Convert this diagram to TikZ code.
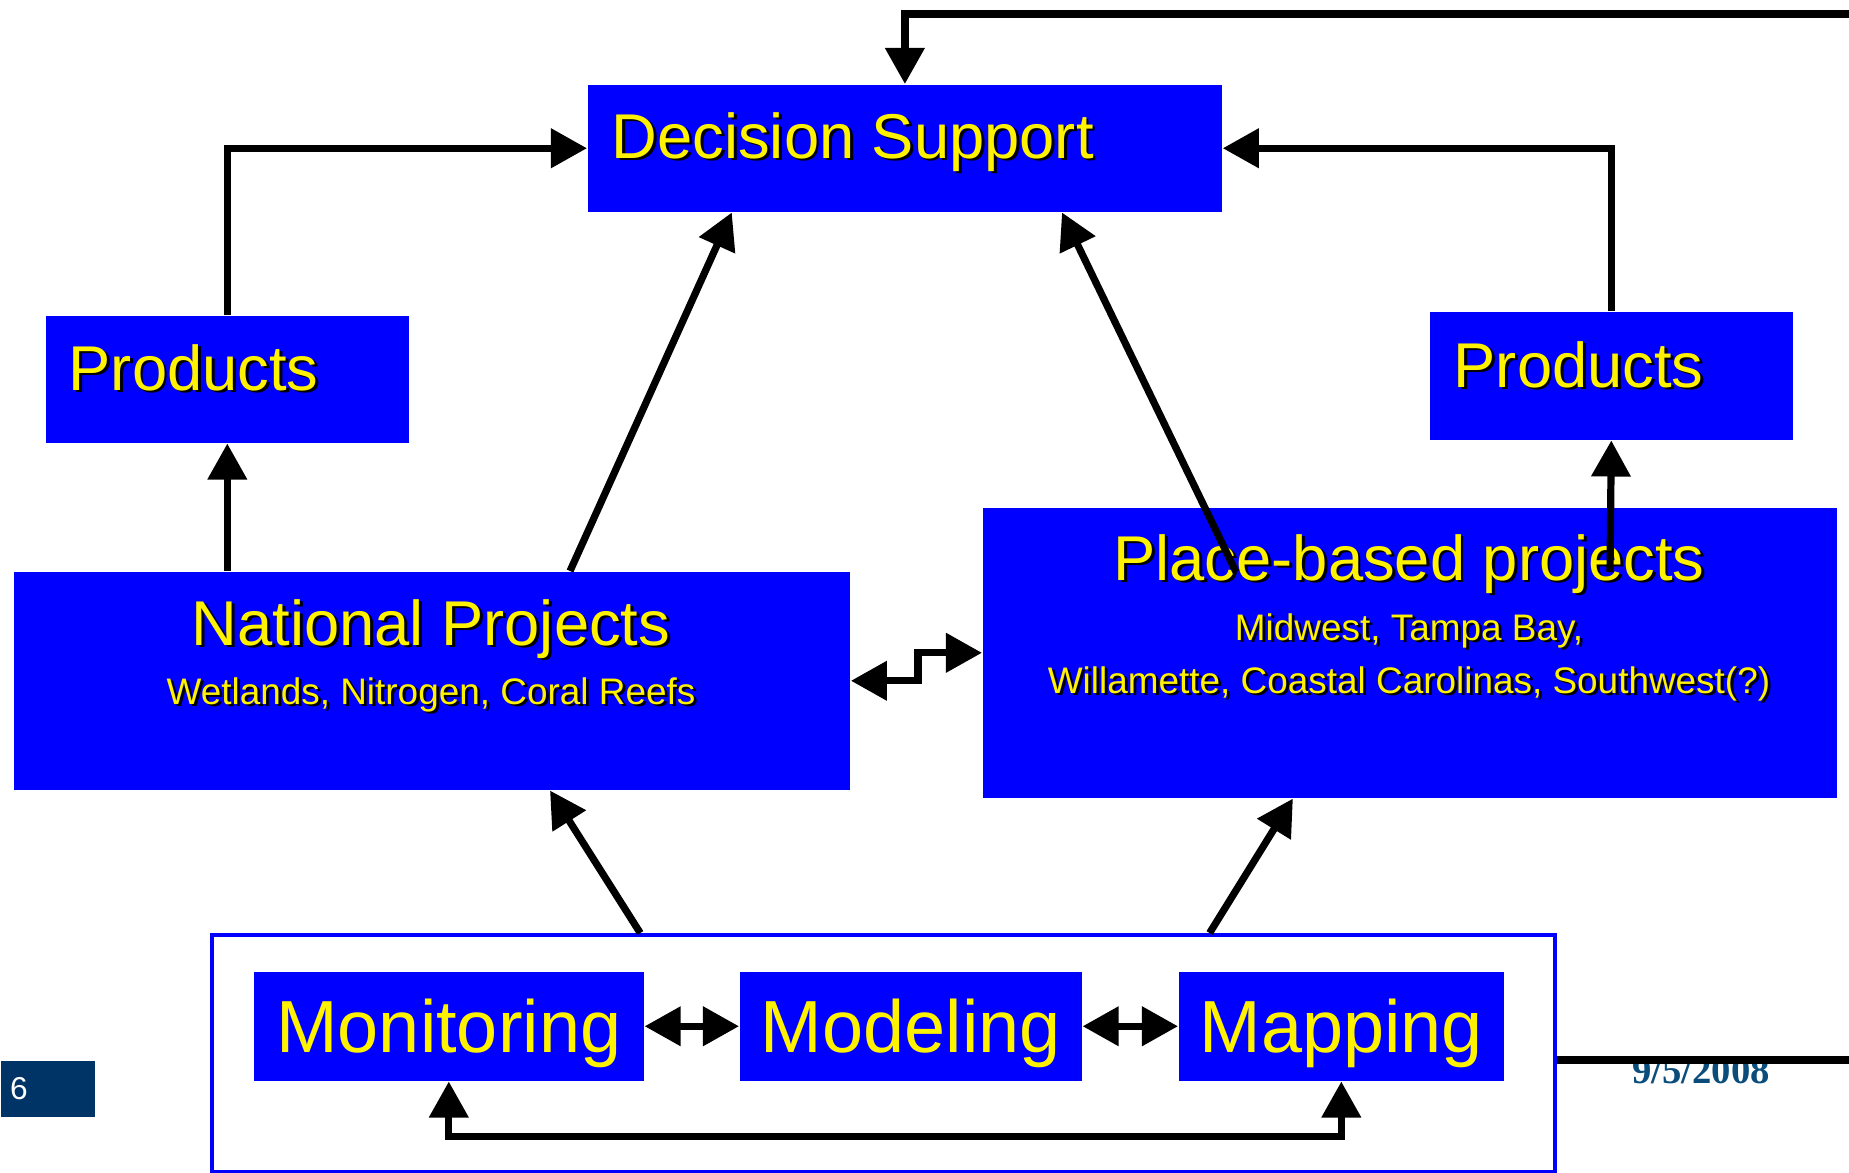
\documentclass[tikz,border=0pt]{standalone}
\usepackage{fontspec}
\setmainfont{Liberation Sans}
\newfontfamily\datefont{Liberation Serif}
\usetikzlibrary{arrows.meta}
\definecolor{pagenavy}{RGB}{0,51,102}
\definecolor{datecol}{RGB}{11,77,122}
\newcommand{\shadtxt}[1]{\rlap{\kern0.8pt\raisebox{-0.8pt}{\color{black}#1}}#1}
\tikzset{
  blk/.style={fill=blue, inner sep=0pt, anchor=north west},
  ttl/.style={text=yellow, inner sep=0pt, anchor=base, font=\fontsize{18}{20}\selectfont},
  sub/.style={text=yellow, inner sep=0pt, anchor=base, font=\fontsize{10.5}{12}\selectfont},
  tool/.style={blk, text=yellow, font=\fontsize{21}{24}\selectfont, text height=15pt, text depth=0pt},
  arr/.style={-{Triangle[length=0.36cm,width=0.38cm]}, line width=0.072cm},
  dbl/.style={{Triangle[length=0.36cm,width=0.38cm]}-{Triangle[length=0.36cm,width=0.38cm]}, line width=0.072cm},
}
\begin{document}
\begin{tikzpicture}[x=0.01cm, y=-0.01cm]
  \useasboundingbox (0,0) rectangle (1849,1172);
  \node[blk, minimum width=6.34cm, minimum height=1.27cm] (ds) at (587,84) {};
  \node[blk, minimum width=3.63cm, minimum height=1.27cm] (lp) at (45,315) {};
  \node[blk, minimum width=3.63cm, minimum height=1.28cm] (rp) at (1429,311) {};
  \node[blk, minimum width=8.36cm, minimum height=2.18cm] (np) at (13,571) {};
  \node[blk, minimum width=8.54cm, minimum height=2.90cm] (pb) at (982,507) {};
  \node[draw=blue, fill=white, line width=0.04cm, inner sep=0pt, anchor=north west,
    minimum width=13.42cm, minimum height=2.37cm] (frm) at (210,933) {};
  \node[tool, minimum width=3.90cm, minimum height=1.09cm] (mon) at (253,971) {Monitoring};
  \node[tool, minimum width=3.42cm, minimum height=1.09cm] (mod) at (739,971) {Modeling};
  \node[tool, minimum width=3.25cm, minimum height=1.09cm] (map) at (1178,971) {Mapping};

  \node[ttl, anchor=base west] (dst) at (611,158) {\shadtxt{Decision Support}};
  \node[ttl, anchor=base west] (lpt) at (68,390) {\shadtxt{Products}};
  \node[ttl, anchor=base west] (rpt) at (1453,387) {\shadtxt{Products}};
  \node[ttl] (npt) at (431,645) {\shadtxt{National Projects}};
  \node[sub] (nps) at (431,704) {\shadtxt{Wetlands, Nitrogen, Coral Reefs}};
  \node[ttl] (pbt) at (1409,580) {\shadtxt{Place-based projects}};
  \node[sub] (pbs1) at (1409,640) {\shadtxt{Midwest, Tampa Bay,}};
  \node[sub] (pbs2) at (1409,693) {\shadtxt{Willamette, Coastal Carolinas, Southwest(?)}};

  \node[fill=pagenavy, inner sep=0pt, anchor=north west, minimum width=0.94cm, minimum height=0.56cm] (pg) at (0,1060) {};
  \node[text=white, inner sep=0pt, anchor=base, font=\fontsize{9}{10}\selectfont] (pgn) at (19,1099) {6};
  \node[text=datecol, inner sep=0pt, anchor=base, font=\datefont\bfseries\fontsize{11}{12}\selectfont] (dt) at (1701,1083) {9/5/2008};

  \coordinate (rtt) at (1860,14);
  \coordinate (rtb) at (1860,1060);
  \coordinate (pbl) at (1236,572);
  \coordinate (pbr) at (1610,572);

  \draw[arr] (rtt) -| (ds.north);
  \draw[arr] (lp.north) |- (ds.west);
  \draw[arr] (rp.north) |- (ds.east);
  \draw[arr] (np.north -| lp.south) -- (lp.south);
  \draw[arr] ([xshift=1.38cm]np.north) -- ([xshift=-1.73cm]ds.south);
  \draw[arr] (pbl) -- ([xshift=1.57cm]ds.south);
  \draw[arr] (pbr) -- (rp.south);
  \draw[dbl] (np.east) -- ++(67,0) |- (pb.west);
  \draw[arr] ([xshift=-2.43cm]frm.north) -- ([xshift=1.18cm]np.south);
  \draw[arr] ([xshift=3.26cm]frm.north) -- ([xshift=-1.17cm]pb.south);
  \draw[dbl] (mon.east) -- (mod.west);
  \draw[dbl] (mod.east) -- (map.west);
  \draw[dbl] (mon.south) -- ++(0,55) -| (map.south);
  \draw[line width=0.072cm] (frm.east |- rtb) -- (rtb);
\end{tikzpicture}
\end{document}
